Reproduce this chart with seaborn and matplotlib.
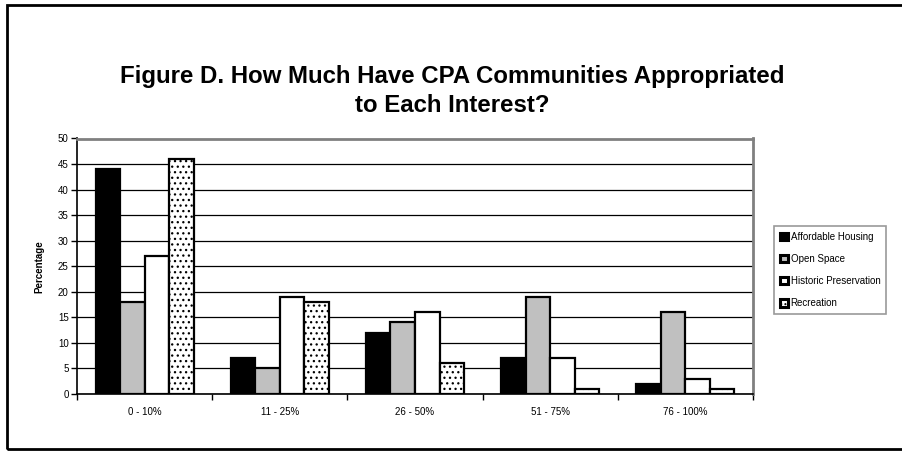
import matplotlib
matplotlib.use("Agg")
import matplotlib.pyplot as plt
from matplotlib.patches import Rectangle, Patch
import seaborn as sns
import pandas as pd

categories = ["0 - 10%", "11 - 25%", "26 - 50%", "51 - 75%", "76 - 100%"]
series = ["Affordable Housing", "Open Space", "Historic Preservation", "Recreation"]
affordable = [44, 7, 12, 7, 2]
open_space = [18, 5, 14, 19, 16]
historic = [27, 19, 16, 7, 3]
recreation = [46, 18, 6, 1, 1]
yticks = list(range(0, 55, 5))

values = [affordable, open_space, historic, recreation]
rows = []
for s, vals in zip(series, values):
    for c, v in zip(categories, vals):
        rows.append({"Range": c, "Interest": s, "Percentage": v})
df = pd.DataFrame(rows)

sns.set_style("white")
plt.rcParams["font.family"] = ["Liberation Sans", "DejaVu Sans"]
plt.rcParams["hatch.linewidth"] = 0.9
plt.rcParams["text.color"] = "black"
plt.rcParams["xtick.color"] = "black"
plt.rcParams["ytick.color"] = "black"
plt.rcParams["axes.labelcolor"] = "black"

W, H = 903, 451
fig = plt.figure(figsize=(W / 100, H / 100), dpi=100)
ax = fig.add_axes([77 / W, 1 - 394 / H, (753 - 77) / W, (394 - 138.5) / H])

fills = ["#000000", "#C0C0C0", "#FFFFFF", "#FFFFFF"]
sns.barplot(data=df, x="Range", y="Percentage", hue="Interest", order=categories,
            hue_order=series, palette=fills, width=0.725, gap=0, saturation=1,
            edgecolor="black", linewidth=1.6, legend=False, ax=ax, zorder=3)

for bar in ax.containers[3]:
    bar.set_hatch("...")
    bar.set_edgecolor("black")

ax.set_ylim(0, 50)
ax.set_xlim(-0.5, len(categories) - 0.5)
ax.set_yticks(yticks)
ax.set_yticklabels([str(t) for t in yticks], fontsize=7)
ax.yaxis.grid(True, color="black", linewidth=0.9, zorder=0)
ax.set_axisbelow(True)
ax.tick_params(axis="y", which="major", left=True, length=4, width=1, pad=2, color="black")
ax.set_xticks(range(len(categories)))
ax.set_xticklabels(categories, fontsize=7)
ax.tick_params(axis="x", which="major", bottom=False, pad=6)
ax.set_xticks([i + 0.5 for i in range(-1, len(categories))], minor=True)
ax.tick_params(axis="x", which="minor", bottom=True, length=4, width=1, color="black")
ax.set_xlabel("")
ax.set_ylabel("Percentage", fontsize=7, fontweight="bold", labelpad=10)

for side in ["top", "right"]:
    ax.spines[side].set_visible(True)
    ax.spines[side].set_color("#808080")
    ax.spines[side].set_linewidth(2)
ax.spines["left"].set_color("black")
ax.spines["left"].set_linewidth(1.2)
ax.spines["bottom"].set_color("black")
ax.spines["bottom"].set_linewidth(1.2)

handles = [Patch(facecolor=fc, edgecolor="black", linewidth=2.2, hatch=("...." if i == 3 else None))
           for i, fc in enumerate(fills)]
leg = fig.legend(handles, series, loc="upper left", bbox_to_anchor=(774 / W, 1 - 226 / H),
                 fontsize=7, frameon=True, fancybox=False, edgecolor="#808080",
                 handlelength=0.8, handleheight=0.8, handletextpad=0.3,
                 labelspacing=1.25, borderpad=0.6, borderaxespad=0)
leg.get_frame().set_linewidth(1.2)

fig.text(452 / W, 1 - 76 / H, "Figure D. How Much Have CPA Communities Appropriated",
         ha="center", va="center", fontsize=17.3, fontweight="bold")
fig.text(452 / W, 1 - 105 / H, "to Each Interest?",
         ha="center", va="center", fontsize=17.3, fontweight="bold")

fig.patches.append(Rectangle((7 / W, 1 - 449 / H), 1.2, (449 - 5) / H,
                             transform=fig.transFigure, fill=False,
                             edgecolor="black", linewidth=2))

fig.savefig("out.png", dpi=100)
